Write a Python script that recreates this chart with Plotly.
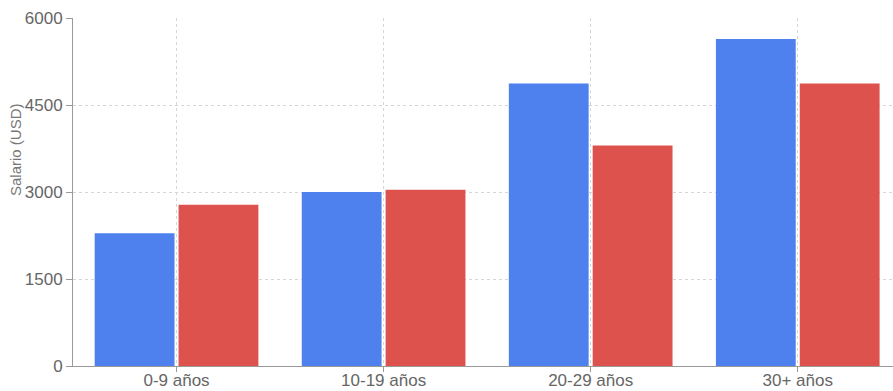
import plotly.graph_objects as go

# Salary by years of experience, two groups
categories = ["0-9 años", "10-19 años", "20-29 años", "30+ años"]
serie_azul = [2290, 3000, 4870, 5640]
serie_roja = [2780, 3040, 3800, 4870]
y_ticks = [0, 1500, 3000, 4500, 6000]

font_family = "Liberation Sans, Arial, sans-serif"
axis_grey = "#9a9a9a"
grid_grey = "#d6d6d6"
label_grey = "#666666"

fig = go.Figure()
fig.add_trace(go.Bar(x=categories, y=serie_azul, marker=dict(color="#4e80ee", line=dict(width=0)),
                     name="Serie A", showlegend=False))
fig.add_trace(go.Bar(x=categories, y=serie_roja, marker=dict(color="#dd524c", line=dict(width=0)),
                     name="Serie B", showlegend=False))

fig.update_layout(
    width=893, height=391,
    margin=dict(l=73, r=0, t=18, b=25, autoexpand=False),
    paper_bgcolor="white", plot_bgcolor="white",
    barmode="group", bargap=0.19, bargroupgap=0.048,
    font=dict(family=font_family, color=label_grey, size=17),
)

fig.update_xaxes(
    type="category", categoryorder="array", categoryarray=categories,
    range=[-0.5, 3.46], automargin=False,
    showline=True, linecolor=axis_grey, linewidth=1,
    ticks="outside", ticklen=5, tickcolor=axis_grey,
    ticklabelstandoff=-6,
    showgrid=True, gridcolor=grid_grey, griddash="3px,3px", gridwidth=1,
    tickfont=dict(size=17, color=label_grey),
    zeroline=False, fixedrange=True,
)

fig.update_yaxes(
    range=[0, 6000], tickvals=y_ticks, ticktext=[str(v) for v in y_ticks],
    automargin=False,
    showline=True, linecolor=axis_grey, linewidth=1,
    ticks="outside", ticklen=6, tickcolor=axis_grey,
    showgrid=True, gridcolor=grid_grey, griddash="3px,3px", gridwidth=1,
    tickfont=dict(size=17, color=label_grey),
    zeroline=False, fixedrange=True,
)

fig.add_annotation(
    text="Salario (USD)", textangle=-90,
    xref="paper", yref="paper", x=-73 / 820 + 15 / 820, y=(366 - 150) / 348,
    xanchor="center", yanchor="middle", showarrow=False,
    font=dict(size=15, color="#777777", family=font_family),
)

fig.write_html("out.html")
